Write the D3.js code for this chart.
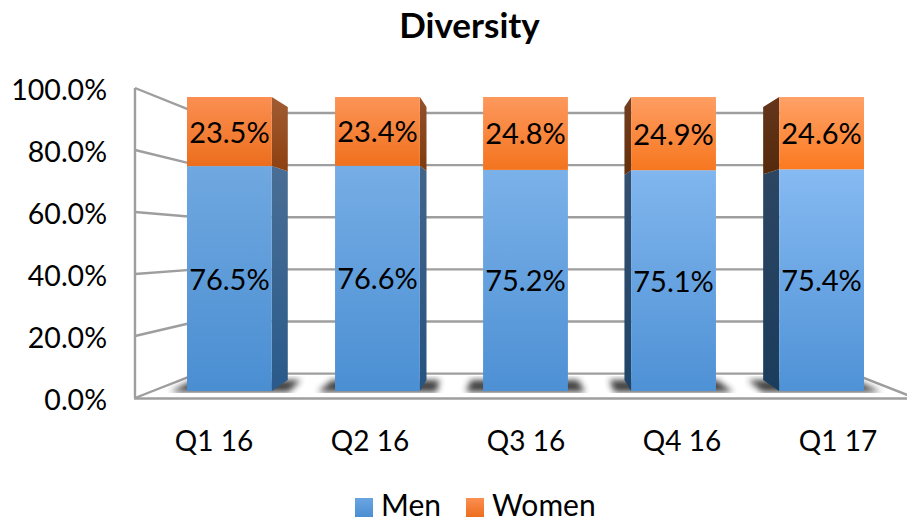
<!DOCTYPE html>
<html><head><meta charset="utf-8">
<style>html,body{margin:0;padding:0;background:#fff}svg{display:block}text{font-family:Lato,"Open Sans",sans-serif;fill:#000}</style>
<script src="https://cdn.jsdelivr.net/npm/d3@7/dist/d3.min.js"></script>
</head><body><svg id="c" width="907" height="521"></svg>
<script>
const quarters=["Q1 16","Q2 16","Q3 16","Q4 16","Q1 17"];
const men=[76.5,76.6,75.2,75.1,75.4];
const women=[23.5,23.4,24.8,24.9,24.6];
const yTicks=[0,20,40,60,80,100];
const seriesNames=["Men","Women"];

const svg=d3.select("#c");
const vp={x:525,y:245};
const kWall=0.841,kSide=0.937;
const y=d3.scaleLinear().domain([0,100]).range([398,88]);
const yBar=d3.scaleLinear().domain([0,100]).range([391,97]);
const yBarBack=d3.scaleLinear().domain([0,100]).range([380,107]);
const x=d3.scaleBand().domain(quarters).range([187,864]).paddingInner(0.427).paddingOuter(0);
const xCat=d3.scalePoint().domain(quarters).range([214,838]);
const xWall=v=>vp.x+(v-vp.x)*kWall, yWall=t=>vp.y+(y(t)-vp.y)*kWall;
const xBack=v=>vp.x+(v-vp.x)*kSide;
const pts=a=>a.map(p=>p.join(",")).join(" ");

const defs=svg.append("defs");
const blur=defs.append("filter").attr("id","sh").attr("x","-30%").attr("y","-80%").attr("width","160%").attr("height","260%");
blur.append("feGaussianBlur").attr("stdDeviation",3.4);
defs.append("clipPath").attr("id","floor").append("rect").attr("x",135).attr("y",376).attr("width",772).attr("height",17);

function grad(id,top,bot){const g=defs.append("linearGradient").attr("id",id).attr("x1",0).attr("y1",0).attr("x2",0).attr("y2",1);
  g.append("stop").attr("offset","0%").attr("stop-color",top);
  g.append("stop").attr("offset","100%").attr("stop-color",bot);}

svg.append("text").attr("x",469.5).attr("y",38).attr("text-anchor","middle").attr("font-size",35).attr("font-weight",700).text("Diversity");

const wall=svg.append("g").attr("stroke","#9e9e9e").attr("stroke-width",2.4).attr("fill","none");
yTicks.forEach(t=>{
  wall.append("line").attr("x1",135).attr("y1",y(t)).attr("x2",xWall(135)).attr("y2",yWall(t));
  wall.append("line").attr("x1",xWall(135)).attr("y1",yWall(t)).attr("x2",xWall(915)).attr("y2",yWall(t));
});
wall.append("line").attr("x1",135).attr("y1",y(100)).attr("x2",135).attr("y2",y(0));
wall.append("line").attr("x1",134).attr("y1",y(0)+.5).attr("x2",907).attr("y2",y(0)+.5).attr("stroke-width",2.6);
wall.append("line").attr("x1",915).attr("y1",y(0)).attr("x2",xWall(915)).attr("y2",yWall(0));

svg.append("g").selectAll("text").data(yTicks).join("text")
  .attr("x",107).attr("y",d=>y(d)+12).attr("text-anchor","end").attr("font-size",28.5).text(d=>d3.format(".1f")(d)+"%");

const shadows=svg.append("g").attr("clip-path","url(#floor)").attr("opacity",0.92);
quarters.forEach(q=>{
  const x0=x(q),x1=x0+x.bandwidth();
  shadows.append("polygon").attr("fill","#333").attr("filter","url(#sh)")
   .attr("points",pts([[x0-17,yBar(0)+1],[x1+17,yBar(0)+1],[xBack(x1)+13,yBarBack(0)],[xBack(x0)-15,yBarBack(0)]]));
});

const mix=(a,b,t)=>d3.interpolateRgb(a,b)(t);
quarters.forEach((q,i)=>{
  const x0=x(q),x1=x0+x.bandwidth(),t=i/(quarters.length-1);
  const stack=[[0,men[i],"m"],[men[i],100,"w"]];
  const g=svg.append("g");
  const sideX=(x0+x1)/2<vp.x?x1:x0;
  stack.forEach(([a,b,s])=>{
    if(i!==2){
      const id=`side${i}${s}`;
      if(s==="w") grad(id,mix("#a05c33","#64351b",t),mix("#8e4010","#552a0c",t));
      else grad(id,mix("#4a6e95","#2c4663",t),mix("#2a5a8a","#1b3c5c",t));
      g.append("polygon").attr("fill",`url(#${id})`)
       .attr("points",pts([[sideX,yBar(b)],[xBack(sideX),yBarBack(b)],[xBack(sideX),yBarBack(a)],[sideX,yBar(a)]]));
    }
    const id=`front${i}${s}`;
    if(s==="w") grad(id,mix("#fb8f52","#ffa167",t),mix("#ec6e1c","#fb7a20",t));
    else grad(id,mix("#70a8e0","#86baf2",t),mix("#4a8ed2","#4f92d6",t));
    g.append("rect").attr("x",x0).attr("width",x1-x0).attr("y",yBar(b)).attr("height",yBar(a)-yBar(b)).attr("fill",`url(#${id})`);
  });
  g.append("text").attr("x",(x0+x1)/2).attr("y",yBar(men[i]/2)+11).attr("text-anchor","middle").attr("font-size",29).text(d3.format(".1f")(men[i])+"%");
  g.append("text").attr("x",(x0+x1)/2).attr("y",yBar(men[i]+women[i]/2)+11).attr("text-anchor","middle").attr("font-size",29).text(d3.format(".1f")(women[i])+"%");
  svg.append("text").attr("x",xCat(q)).attr("y",451).attr("text-anchor","middle").attr("font-size",28).text(q);
});

const legendX=[355,466],legendFill=[["#6aa5e2","#4a8ed2"],["#fb8f52","#ec6e1c"]];
seriesNames.forEach((n,i)=>{
  grad("leg"+i,legendFill[i][0],legendFill[i][1]);
  svg.append("rect").attr("x",legendX[i]).attr("y",498).attr("width",18).attr("height",19).attr("fill",`url(#leg${i})`);
  svg.append("text").attr("x",legendX[i]+26).attr("y",516).attr("font-size",30).text(n);
});
</script></body></html>
